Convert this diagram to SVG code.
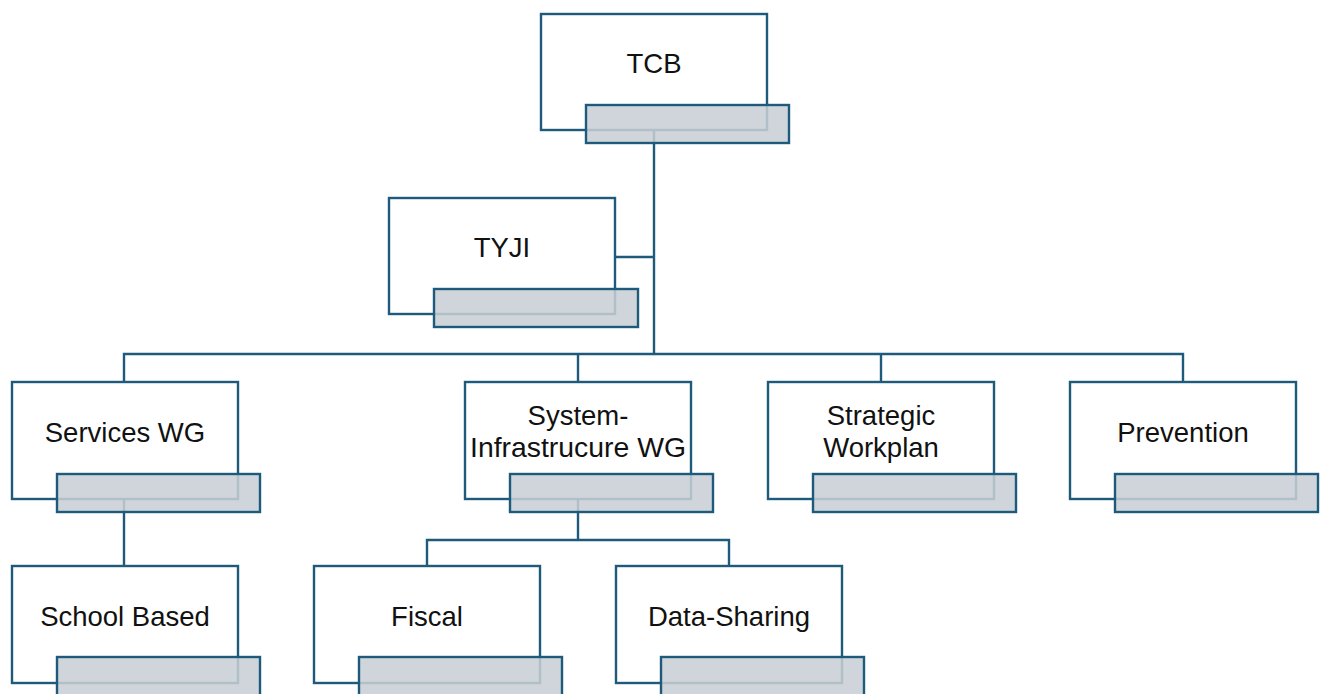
<svg xmlns="http://www.w3.org/2000/svg" width="1325" height="694" viewBox="0 0 1325 694">
<style>
.box{fill:#ffffff;stroke:#1d5a7b;stroke-width:2.4}
.tab{fill:#c8cfd5;fill-opacity:0.87;stroke:#1d5a7b;stroke-width:2.4}
.lbl{font-family:"Liberation Sans",Arial,sans-serif;font-size:27.5px;fill:#111111;text-anchor:middle}
.con{fill:none;stroke:#1d5a7b;stroke-width:2.4}
</style>
<rect width="1325" height="694" fill="#ffffff"/>
<g id="connectors">
<path class="con" d="M654,130 V354"/>
<path class="con" d="M616,257 H654"/>
<path class="con" d="M124,382 V354 H1183 V382"/>
<path class="con" d="M578,354 V382"/>
<path class="con" d="M881,354 V382"/>
<path class="con" d="M124,499 V566"/>
<path class="con" d="M578,499 V540 M427,566 V540 H729 V566"/>
</g>
<g id="tcb">
<rect class="box" x="541" y="14" width="226" height="116"/>
<rect class="tab" x="586" y="105" width="203" height="38"/>
<text class="lbl" x="654" y="73">TCB</text>
</g>
<g id="tyji">
<rect class="box" x="389" y="198" width="226" height="116"/>
<rect class="tab" x="434" y="289" width="204" height="38"/>
<text class="lbl" x="502" y="257">TYJI</text>
</g>
<g id="services-wg">
<rect class="box" x="12" y="382" width="226" height="117"/>
<rect class="tab" x="57" y="474" width="203" height="38"/>
<text class="lbl" x="125" y="442">Services WG</text>
</g>
<g id="system-infrastructure-wg">
<rect class="box" x="465" y="382" width="226" height="117"/>
<rect class="tab" x="510" y="474" width="203" height="38"/>
<text class="lbl" x="578" y="425">System-</text>
<text class="lbl" x="578" y="457" textLength="216" lengthAdjust="spacingAndGlyphs">Infrastrucure WG</text>
</g>
<g id="strategic-workplan">
<rect class="box" x="768" y="382" width="226" height="117"/>
<rect class="tab" x="813" y="474" width="203" height="38"/>
<text class="lbl" x="881" y="425">Strategic</text>
<text class="lbl" x="881" y="457">Workplan</text>
</g>
<g id="prevention">
<rect class="box" x="1070" y="382" width="226" height="117"/>
<rect class="tab" x="1115" y="474" width="203" height="38"/>
<text class="lbl" x="1183" y="442">Prevention</text>
</g>
<g id="school-based">
<rect class="box" x="12" y="566" width="226" height="117"/>
<rect class="tab" x="57" y="657" width="203" height="40"/>
<text class="lbl" x="125" y="626">School Based</text>
</g>
<g id="fiscal">
<rect class="box" x="314" y="566" width="226" height="117"/>
<rect class="tab" x="359" y="657" width="203" height="40"/>
<text class="lbl" x="427" y="626">Fiscal</text>
</g>
<g id="data-sharing">
<rect class="box" x="616" y="566" width="226" height="117"/>
<rect class="tab" x="661" y="657" width="203" height="40"/>
<text class="lbl" x="729" y="626">Data-Sharing</text>
</g>
</svg>
